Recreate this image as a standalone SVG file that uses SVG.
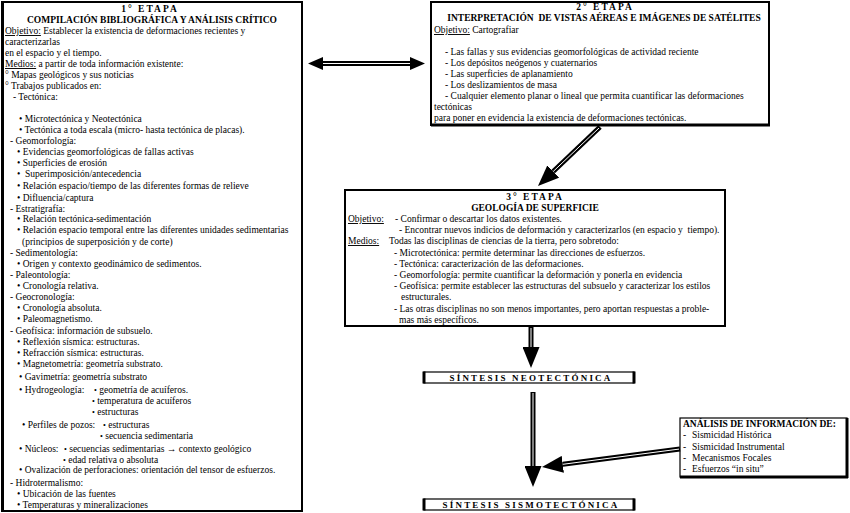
<svg xmlns="http://www.w3.org/2000/svg" width="850" height="513" viewBox="0 0 850 513">
<style>
text{font-family:"Liberation Serif","Times New Roman",serif;font-size:9.5px;fill:#000}
.b{font-weight:bold}
.c{text-anchor:middle}
.u{text-decoration:underline}
.sp{letter-spacing:2px}
.box{fill:#fff;stroke:#000;stroke-width:2}
.thin{fill:#fff;stroke:#000;stroke-width:1.2}
.edge{stroke:#000;stroke-width:3}
.shaft{stroke:#000;stroke-width:5;fill:none}
.inner{stroke:#fff;stroke-width:1;fill:none}
.sb{font-size:8px}
.syn{font-size:9px;font-weight:bold;letter-spacing:2.2px;text-anchor:middle}
</style>
<defs>
<marker id="ah" viewBox="0 0 10 10" refX="0" refY="5" markerUnits="userSpaceOnUse" markerWidth="21" markerHeight="17" orient="auto" preserveAspectRatio="none"><path d="M0,0 L10,5 L0,10 z" fill="#000"/></marker>
<marker id="ahs" viewBox="0 0 10 10" refX="0" refY="5" markerUnits="userSpaceOnUse" markerWidth="15" markerHeight="13" orient="auto-start-reverse" preserveAspectRatio="none"><path d="M0,0 L10,5 L0,10 z" fill="#000"/></marker>
</defs>
<rect width="850" height="513" fill="#fff"/>

<g id="etapa1">
<rect class="box" x="2" y="2" width="300" height="509"/>
<line class="edge" x1="2.5" y1="1" x2="2.5" y2="512"/>
<text class="b c sp" x="150" y="12">1° ETAPA</text>
<text class="b c" x="152" y="23">COMPILACIÓN BIBLIOGRÁFICA Y ANÁLISIS CRÍTICO</text>
<text x="5" y="34"><tspan class="u">Objetivo:</tspan> Establecer la existencia de deformaciones recientes y</text>
<text x="5" y="45">caracterizarlas</text>
<text x="5" y="56">en el espacio y el tiempo.</text>
<text x="5" y="67"><tspan class="u">Medios:</tspan> a partir de toda información existente:</text>
<text x="5" y="78">° Mapas geológicos y sus noticias</text>
<text x="5" y="89">° Trabajos publicados en:</text>
<text x="13" y="100">- Tectónica:</text>
<text x="19" y="122">• Microtectónica y Neotectónica</text>
<text x="19" y="133">• Tectónica a toda escala (micro- hasta tectónica de placas).</text>
<text x="10" y="144">- Geomorfología:</text>
<text x="17" y="155">• Evidencias geomorfológicas de fallas activas</text>
<text x="17" y="166">• Superficies de erosión</text>
<text x="17" y="177" xml:space="preserve">•  Superimposición/antecedencia</text>
<text x="17" y="189">• Relación espacio/tiempo de las diferentes formas de relieve</text>
<text x="17" y="201">• Difluencia/captura</text>
<text x="10" y="212">- Estratigrafía:</text>
<text x="17" y="222">• Relación tectónica-sedimentación</text>
<text x="17" y="233">• Relación espacio temporal entre las diferentes unidades sedimentarias</text>
<text x="22" y="245">(principios de superposición y de corte)</text>
<text x="10" y="256">- Sedimentología:</text>
<text x="17" y="267">• Origen y contexto geodinámico de sedimentos.</text>
<text x="10" y="278">- Paleontología:</text>
<text x="17" y="289">• Cronología relativa.</text>
<text x="10" y="300">- Geocronología:</text>
<text x="17" y="311">• Cronología absoluta.</text>
<text x="17" y="322">• Paleomagnetismo.</text>
<text x="10" y="334">- Geofísica: información de subsuelo.</text>
<text x="17" y="345">• Reflexión sísmica: estructuras.</text>
<text x="17" y="356">• Refracción sísmica: estructuras.</text>
<text x="17" y="367">• Magnetometría: geometría substrato.</text>
<text x="19" y="380">• Gavimetría: geometría substrato</text>
<text x="19" y="393">• Hydrogeología:</text>
<text x="94" y="393"><tspan class="sb">•</tspan> geometría de acuíferos.</text>
<text x="92" y="404"><tspan class="sb">•</tspan> temperatura de acuíferos</text>
<text x="92" y="415"><tspan class="sb">•</tspan> estructuras</text>
<text x="22" y="428">• Perfiles de pozos:</text>
<text x="103" y="428"><tspan class="sb">•</tspan> estructuras</text>
<text x="100" y="439"><tspan class="sb">•</tspan> secuencia sedimentaria</text>
<text x="19" y="452">• Núcleos:</text>
<text x="64" y="452"><tspan class="sb">•</tspan> secuencias sedimentarias → contexto geológico</text>
<text x="63" y="463"><tspan class="sb">•</tspan> edad relativa o absoluta</text>
<text x="19" y="473">• Ovalización de perforaciones: orientación del tensor de esfuerzos.</text>
<text x="10" y="486">- Hidrotermalismo:</text>
<text x="17" y="497">• Ubicación de las fuentes</text>
<text x="17" y="508">• Temperaturas y mineralizaciones</text>
</g>

<g id="etapa2">
<rect class="box" x="431" y="2" width="338" height="123"/>
<line class="edge" x1="431" y1="125" x2="770" y2="125"/>
<text class="b c sp" x="605" y="10">2° ETAPA</text>
<text class="b c" x="604" y="21" xml:space="preserve">INTERPRETACIÓN  DE VISTAS AÉREAS E IMÁGENES DE SATÉLITES</text>
<text x="434" y="33"><tspan class="u">Objetivo:</tspan> Cartografiar</text>
<text x="445" y="55">- Las fallas y sus evidencias geomorfológicas de actividad reciente</text>
<text x="445" y="66">- Los depósitos neógenos y cuaternarios</text>
<text x="445" y="77">- Las superficies de aplanamiento</text>
<text x="445" y="88">- Los deslizamientos de masa</text>
<text x="445" y="99">- Cualquier elemento planar o lineal que permita cuantificar las deformaciones</text>
<text x="434" y="110">tectónicas</text>
<text x="434" y="121">para poner en evidencia la existencia de deformaciones tectónicas.</text>
</g>

<g id="etapa3">
<rect class="box" x="345" y="190" width="380" height="136" stroke-width="2.5"/>
<text class="b c sp" x="535" y="200">3° ETAPA</text>
<text class="b c" x="535" y="211">GEOLOGÍA DE SUPERFICIE</text>
<text x="348" y="222"><tspan class="u">Objetivo:</tspan></text>
<text x="395" y="222">- Confirmar o descartar los datos existentes.</text>
<text x="399" y="233" xml:space="preserve">- Encontrar nuevos indicios de deformación y caracterizarlos (en espacio y  tiempo).</text>
<text x="348" y="244"><tspan class="u">Medios:</tspan></text>
<text x="389" y="244">Todas las disciplinas de ciencias de la tierra, pero sobretodo:</text>
<text x="394" y="256">- Microtectónica: permite determinar las direcciones de esfuerzos.</text>
<text x="394" y="267">- Tectónica: caracterización de las deformaciones.</text>
<text x="394" y="278">- Geomorfología: permite cuantificar la deformación y ponerla en evidencia</text>
<text x="394" y="289">- Geofísica: permite establecer las estructuras del subsuelo y caracterizar los estilos</text>
<text x="401" y="300">estructurales.</text>
<text x="394" y="312">- Las otras disciplinas no son menos importantes, pero aportan respuestas a proble-</text>
<text x="399" y="323">mas más específicos.</text>
</g>

<g id="sintesis-neotectonica">
<rect class="thin" x="424" y="372" width="210" height="11"/>
<line class="edge" x1="424" y1="371.5" x2="424" y2="383.5"/>
<line class="edge" x1="634" y1="371.5" x2="634" y2="383.5"/>
<text class="syn" x="531" y="381">SÍNTESIS NEOTECTÓNICA</text>
</g>

<g id="sintesis-sismotectonica">
<rect class="thin" x="424" y="499" width="210" height="11"/>
<line class="edge" x1="424" y1="498.5" x2="424" y2="510.5"/>
<line class="edge" x1="634" y1="498.5" x2="634" y2="510.5"/>
<text class="syn" x="531" y="508">SÍNTESIS SISMOTECTÓNICA</text>
</g>

<g id="analisis">
<rect class="thin" x="680" y="418" width="167" height="59"/>
<line class="edge" x1="847" y1="418" x2="847" y2="478"/>
<line class="edge" x1="680" y1="477" x2="848" y2="477"/>
<text class="b" x="683" y="427">ANÁLISIS DE INFORMACIÓN DE:</text>
<text x="683" y="438">-</text><text x="692" y="438">Sismicidad Histórica</text>
<text x="683" y="450">-</text><text x="692" y="450">Sismicidad Instrumental</text>
<text x="683" y="461">-</text><text x="692" y="461">Mecanismos Focales</text>
<text x="683" y="472">-</text><text x="692" y="472">Esfuerzos “in situ”</text>
</g>

<g id="connectors">
<line class="shaft" x1="323" y1="63.5" x2="410" y2="63.5" marker-start="url(#ahs)" marker-end="url(#ahs)"/>
<line class="inner" x1="323" y1="63.5" x2="410" y2="63.5"/>
<line class="shaft" x1="600" y1="127" x2="553.2" y2="171.5" marker-end="url(#ah)"/>
<line class="inner" x1="599" y1="128" x2="553.2" y2="171.5"/>
<line class="shaft" x1="531" y1="327" x2="531" y2="347" marker-end="url(#ah)"/>
<line class="inner" x1="531" y1="328" x2="531" y2="347"/>
<line class="shaft" x1="533" y1="392" x2="533" y2="466" marker-end="url(#ah)"/>
<line class="inner" x1="533" y1="393" x2="533" y2="466"/>
<line class="shaft" x1="680" y1="449" x2="562.8" y2="464.3" marker-end="url(#ah)"/>
<line class="inner" x1="679" y1="449.1" x2="562.8" y2="464.3"/>
</g>
</svg>
